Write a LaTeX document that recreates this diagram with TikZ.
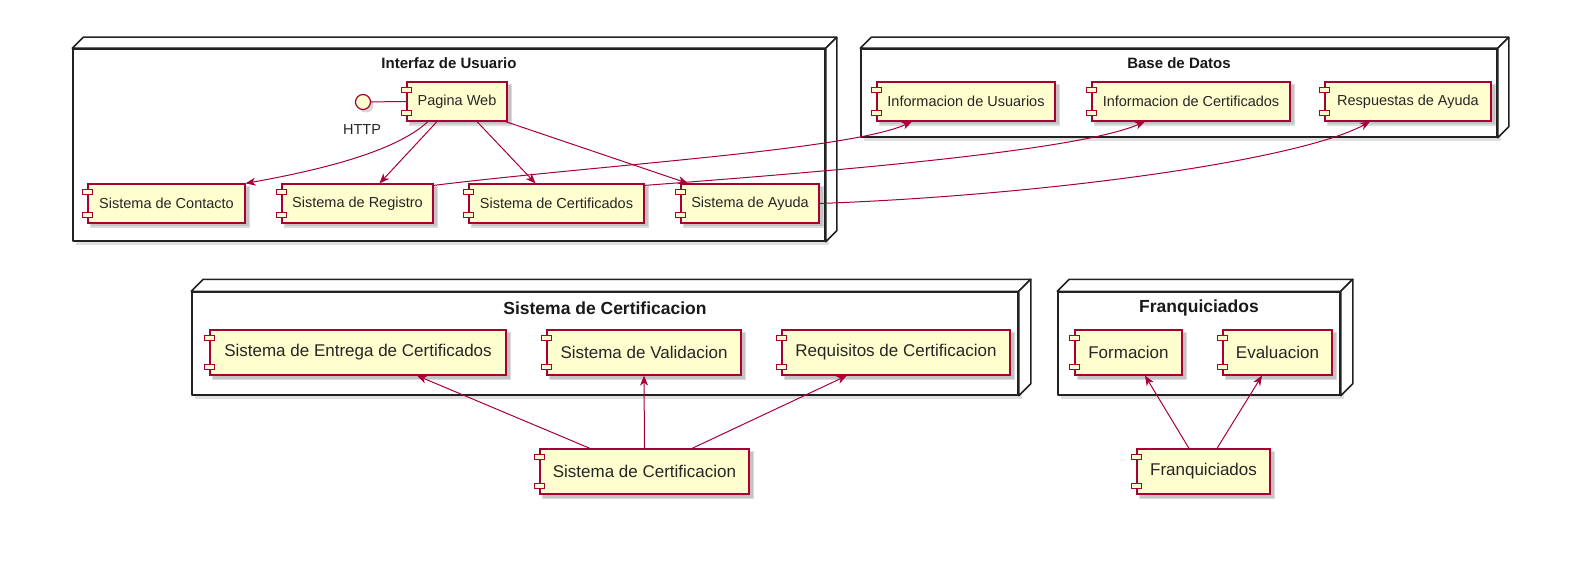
\documentclass[tikz,border=0pt]{standalone}
\usepackage{fontspec}
\setmainfont{Liberation Sans}
\usetikzlibrary{arrows.meta,calc}
\definecolor{cred}{HTML}{A80036}
\definecolor{cfill}{HTML}{FEFECE}
\definecolor{shadowc}{HTML}{9A9A9A}
\definecolor{nodeln}{HTML}{222222}
\tikzset{
  compbox/.style={draw=cred, fill=cfill, line width=1.2pt, inner sep=0pt, text=black!85},
  compsmall/.style={draw=cred, fill=cfill, line width=1.1pt},
  topfont/.style={font=\fontsize{14.5}{17}\selectfont},
  botfont/.style={font=\fontsize{17}{20}\selectfont},
  toptitle/.style={font=\fontsize{15}{18}\selectfont\bfseries, text=black!90},
  bottitle/.style={font=\fontsize{17.5}{20}\selectfont\bfseries, text=black!90},
  nodeline/.style={draw=nodeln, line width=1.5pt, fill=white, line join=round},
  conn/.style={draw=cred, line width=1pt, -{Stealth[length=10pt,width=8pt,inset=3pt]}},
  plainconn/.style={draw=cred, line width=1pt}
}
% component: name, x0 (main left), y0, x1, y1, text, font style
\newcommand{\mycomp}[7]{%
  \fill[shadowc, opacity=0.35] (#2+2,#3+2) rectangle (#4+5,#5+5);
  \fill[shadowc, opacity=0.35] (#2+3,#3+3) rectangle (#4+3.5,#5+3.5);
  \node[compbox, #7, minimum width=#4-#2, minimum height=#5-#3] (#1) at ({(#2+#4)/2},{(#3+#5)/2}) {#6};
  \draw[compsmall] ($(#1.north west)+(-5,6)$) rectangle ++(10,5);
  \draw[compsmall] ($(#1.south west)+(-5,-11)$) rectangle ++(10,5);
}
% container node: name, x0, y0, x1, y1, depth
\newcommand{\mycontainer}[6]{%
  \fill[shadowc, opacity=0.3] (#2+3,#3+3) rectangle (#4+4,#5+4);
  \node[nodeline, minimum width=#4-#2, minimum height=#5-#3, inner sep=0pt] (#1) at ({(#2+#4)/2},{(#3+#5)/2}) {};
  \draw[nodeline] (#1.north west) -- ++(#6,-#6) -- ($(#1.north east)+(#6,-#6)$) -- (#1.north east) -- cycle;
  \draw[nodeline] (#1.north east) -- ++(#6,-#6) -- ($(#1.south east)+(#6,-#6)$) -- (#1.south east) -- cycle;
}
\begin{document}
\begin{tikzpicture}[x=1pt,y=-1pt]
\useasboundingbox[fill=white] (0,0) rectangle (1569,588);

% containers
\mycontainer{ui}{73}{49}{825}{241}{11}
\node[toptitle] (uititle) at (449,63) {Interfaz de Usuario};
\mycontainer{db}{861}{49}{1497}{137}{11}
\node[toptitle] (dbtitle) at (1179,63) {Base de Datos};
\mycontainer{scn}{192}{292}{1018}{395}{12}
\node[bottitle] (scntitle) at (605,308) {Sistema de Certificacion};
\mycontainer{frn}{1058}{292}{1340}{395}{12}
\node[bottitle] (frntitle) at (1199,308) {Franquiciados};

% top components
\mycomp{pw}{407}{82}{507}{121}{Pagina Web}{topfont}
\mycomp{contacto}{88}{184}{245}{223}{Sistema de Contacto}{topfont}
\mycomp{registro}{282}{184}{433}{223}{Sistema de Registro}{topfont}
\mycomp{certs}{469}{184}{644}{223}{Sistema de Certificados}{topfont}
\mycomp{ayuda}{681}{184}{819}{223}{Sistema de Ayuda}{topfont}
\mycomp{infou}{877}{82}{1055}{121}{Informacion de Usuarios}{topfont}
\mycomp{infoc}{1092}{82}{1290}{121}{Informacion de Certificados}{topfont}
\mycomp{resp}{1325}{82}{1491}{121}{Respuestas de Ayuda}{topfont}

% HTTP interface
\fill[shadowc, opacity=0.4] (366,105) circle (7.5);
\node[circle, draw=cred, fill=cfill, line width=1.2pt, minimum size=15pt, inner sep=0pt] (http) at (363,102) {};
\node[topfont, text=black!85] (httplbl) at (362,130) {HTTP};
\draw[plainconn] (http) -- (pw.west);

% bottom components
\mycomp{entrega}{210}{330}{506}{375}{Sistema de Entrega de Certificados}{botfont}
\mycomp{valid}{547}{330}{741}{375}{Sistema de Validacion}{botfont}
\mycomp{req}{782}{330}{1010}{375}{Requisitos de Certificacion}{botfont}
\mycomp{sc}{540}{449}{749}{494}{Sistema de Certificacion}{botfont}
\mycomp{form}{1075}{330}{1182}{375}{Formacion}{botfont}
\mycomp{evalc}{1223}{330}{1332}{375}{Evaluacion}{botfont}
\mycomp{fr}{1137}{449}{1270}{494}{Franquiciados}{botfont}

% top connectors
\draw[conn] ($(pw.south)+(-29,0)$) .. controls (395,152) and (320,170) .. (contacto.north east);
\draw[conn] ($(pw.south)+(-20,0)$) -- ($(registro.north)+(22,0)$);
\draw[conn] ($(pw.south)+(20,0)$) -- ($(certs.north)+(-21,0)$);
\draw[conn] ($(pw.south east)+(-2,0)$) -- ($(ayuda.north)+(-62,0)$);
\draw[conn] ($(registro.north east)+(0,2)$) .. controls (600,165) and (850,150) .. ($(infou.south)+(-54,0)$);
\draw[conn] ($(certs.north east)+(0,2)$) .. controls (850,170) and (1080,150) .. ($(infoc.south)+(-46,0)$);
\draw[conn] (ayuda.east) .. controls (1050,195) and (1300,160) .. ($(resp.south)+(-38,0)$);

% bottom connectors
\draw[conn] ($(sc.north)+(-54.5,0)$) -- ($(entrega.south)+(59,0)$);
\draw[conn] (sc.north) -- (valid.south);
\draw[conn] ($(sc.north)+(47.5,0)$) -- ($(req.south)+(-49,0)$);
\draw[conn] ($(fr.north)+(-14.5,0)$) -- ($(form.south)+(16.5,0)$);
\draw[conn] ($(fr.north)+(13.5,0)$) -- ($(evalc.south)+(-15.5,0)$);
\end{tikzpicture}
\end{document}
